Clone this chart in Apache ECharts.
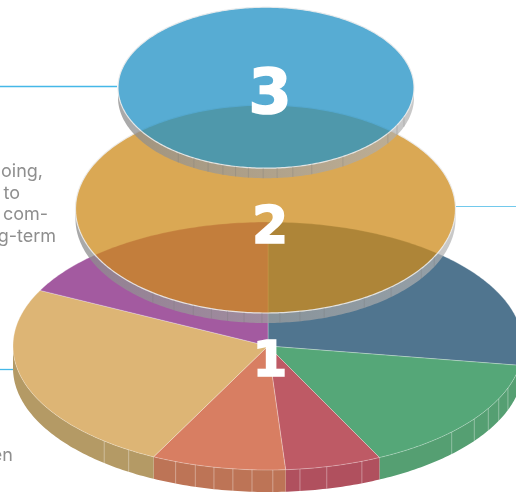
<!DOCTYPE html>
<html>
<head>
<meta charset="utf-8">
<style>html,body{margin:0;padding:0;background:#fff}#chart{width:516px;height:493px}</style>
<script src="https://cdn.jsdelivr.net/npm/echarts@6/dist/echarts.min.js"></script>
</head>
<body>
<div id="chart"></div>
<script>
// Slice shares, in percent, clockwise from twelve o'clock
const baseShares = [27.5, 15.3, 6.1, 8.5, 25, 17.6];
const baseTops = ['#50758F', '#55A778', '#BE5A65', '#D87E62', '#DDB575', '#A35AA0'];
const baseSides = ['#456A80', '#559F72', '#B0505E', '#BD7456', '#B49A65', '#8F4F8C'];
const middleShares = [100];
const topShares = [100];

// Panel joints on the visible rim, in percent around the disc
const baseJoints = [30.5, 32, 33.4, 35, 37.2, 44, 46.3, 48, 49.7, 51, 52.2, 53.4, 54.6, 55.9, 59.2, 61.1];
const middleJoints = [32.6, 34.7, 38.5, 41.3, 45, 47.1, 48.8, 50.3, 51.8, 53.2, 54.6, 56.2, 58, 60.1];
const topJoints = [30.9, 32.7, 34.6, 41.3, 45, 47.1, 48.8, 50.3, 51.9, 53.3, 54.7, 56.4, 58.1, 60.1];

const tierNumbers = ['1', '2', '3'];
const captionLines = ['ongoing,', 'to', 'com-', 'long-term', 'when'];

const tiers = [
  { cx: 268, cy: 346, rx: 255, ry: 124, depth: 22, shares: baseShares, tops: baseTops, sides: baseSides,
    joints: baseJoints, rim: 'rgba(255,255,255,0.28)', rimWidth: 1, joint: 'rgba(255,255,255,0.35)',
    numberX: 270, numberY: 363, numberSize: 50 },
  { cx: 265.5, cy: 209, rx: 190, ry: 104, depth: 10, shares: middleShares, tops: ['rgba(206,139,27,0.75)'], sides: null,
    joints: middleJoints, rim: 'rgba(236,236,236,0.9)', rimWidth: 1.2, joint: 'rgba(120,120,120,0.28)',
    numberX: 270, numberY: 229, numberSize: 52 },
  { cx: 266, cy: 87.7, rx: 148, ry: 80.5, depth: 10, shares: topShares, tops: ['rgba(37,147,198,0.77)'], sides: null,
    joints: topJoints, rim: 'rgba(236,236,236,0.9)', rimWidth: 1.2, joint: 'rgba(120,120,120,0.28)',
    numberX: 270, numberY: 97, numberSize: 62 }
];

// Front half of a disc, the only part of its wall that can be seen
const FRONT_START = 25, FRONT_END = 75, STEP = 0.25;

function greyWall() {
  return new echarts.graphic.LinearGradient(0, 0, 1, 0, [
    { offset: 0, color: 'rgba(140,140,140,0.75)' },
    { offset: 1, color: 'rgba(178,178,178,0.7)' }
  ]);
}

function flatten(tier, api, radius, pct) {
  const p = api.coord([radius, pct]);
  return [p[0], tier.cy + (p[1] - tier.cy) * tier.ry / tier.rx];
}

function arc(tier, api, from, to) {
  const pts = [];
  for (let a = from; a < to; a += STEP) pts.push(flatten(tier, api, 1, a));
  pts.push(flatten(tier, api, 1, to));
  return pts;
}

function renderSlice(tier) {
  return function (params, api) {
    const start = api.value(0), end = api.value(1);
    const kids = [];
    const from = Math.max(start, FRONT_START), to = Math.min(end, FRONT_END);
    if (to > from) {
      const edge = arc(tier, api, from, to);
      const lower = edge.slice().reverse().map(p => [p[0], p[1] + tier.depth]);
      kids.push({
        type: 'polygon',
        shape: { points: edge.concat(lower) },
        style: { fill: tier.sides ? tier.sides[params.dataIndex] : greyWall(), stroke: null }
      });
    }
    const face = arc(tier, api, start, end);
    if (end - start < 100) face.push(flatten(tier, api, 0, start));
    kids.push({
      type: 'polygon',
      shape: { points: face },
      style: { fill: tier.tops[params.dataIndex], stroke: tier.rim, lineWidth: tier.rimWidth }
    });
    return { type: 'group', children: kids };
  };
}

function renderJoint(tier) {
  return function (params, api) {
    const p = flatten(tier, api, 1, api.value(0));
    return {
      type: 'line',
      shape: { x1: p[0], y1: p[1], x2: p[0], y2: p[1] + tier.depth },
      style: { stroke: tier.joint, lineWidth: 1 }
    };
  };
}

function renderNumber(tier, index) {
  return function () {
    return {
      type: 'text',
      style: {
        text: tierNumbers[index], x: tier.numberX, y: tier.numberY,
        fill: '#fff', stroke: '#fff', lineWidth: 1.6,
        fontFamily: 'DejaVu Sans', fontWeight: 'bold', fontSize: tier.numberSize,
        align: 'center', verticalAlign: 'middle'
      }
    };
  };
}

const polar = [], angleAxis = [], radiusAxis = [], series = [];
tiers.forEach((tier, i) => {
  polar.push({ center: [tier.cx, tier.cy], radius: tier.rx });
  angleAxis.push({ polarIndex: i, type: 'value', min: 0, max: 100, startAngle: 90, clockwise: true, show: false });
  radiusAxis.push({ polarIndex: i, type: 'value', min: 0, max: 1, show: false });

  let running = 0;
  const rows = tier.shares.map(s => { const r = [running, running + s]; running += s; return r; });
  const shared = { type: 'custom', coordinateSystem: 'polar', polarIndex: i, silent: true, animation: false };
  series.push(Object.assign({}, shared, { z: 10 + i * 3, data: rows, renderItem: renderSlice(tier) }));
  series.push(Object.assign({}, shared, { z: 11 + i * 3, data: tier.joints.map(j => [j]), renderItem: renderJoint(tier) }));
  series.push(Object.assign({}, shared, { z: 12 + i * 3, data: [[0]], renderItem: renderNumber(tier, i) }));
});

const captionStyle = { fill: '#8e8e8e', fontFamily: 'Inter', fontSize: 18, align: 'right', verticalAlign: 'middle' };
const captionSpots = [[43, 172], [20, 194], [48, 215], [56, 237], [13, 456]];
const leaders = [
  { x1: 0, x2: 117, y: 86.5, color: '#45B8E8', width: 1.3 },
  { x1: 456, x2: 516, y: 206.5, color: '#72C9EC', width: 1 },
  { x1: 0, x2: 13, y: 369.5, color: '#45B8E8', width: 1.3 }
];

const chart = echarts.init(document.getElementById('chart'), null, { renderer: 'canvas' });
chart.setOption({
  animation: false,
  backgroundColor: '#fff',
  polar, angleAxis, radiusAxis, series,
  graphic: leaders.map(l => ({
    type: 'line', silent: true, z: 1,
    shape: { x1: l.x1, y1: l.y, x2: l.x2, y2: l.y },
    style: { stroke: l.color, lineWidth: l.width }
  })).concat(captionLines.map((t, i) => ({
    type: 'text', silent: true, z: 1,
    style: Object.assign({}, captionStyle, { text: t, x: captionSpots[i][0], y: captionSpots[i][1] })
  })))
});
</script>
</body>
</html>
